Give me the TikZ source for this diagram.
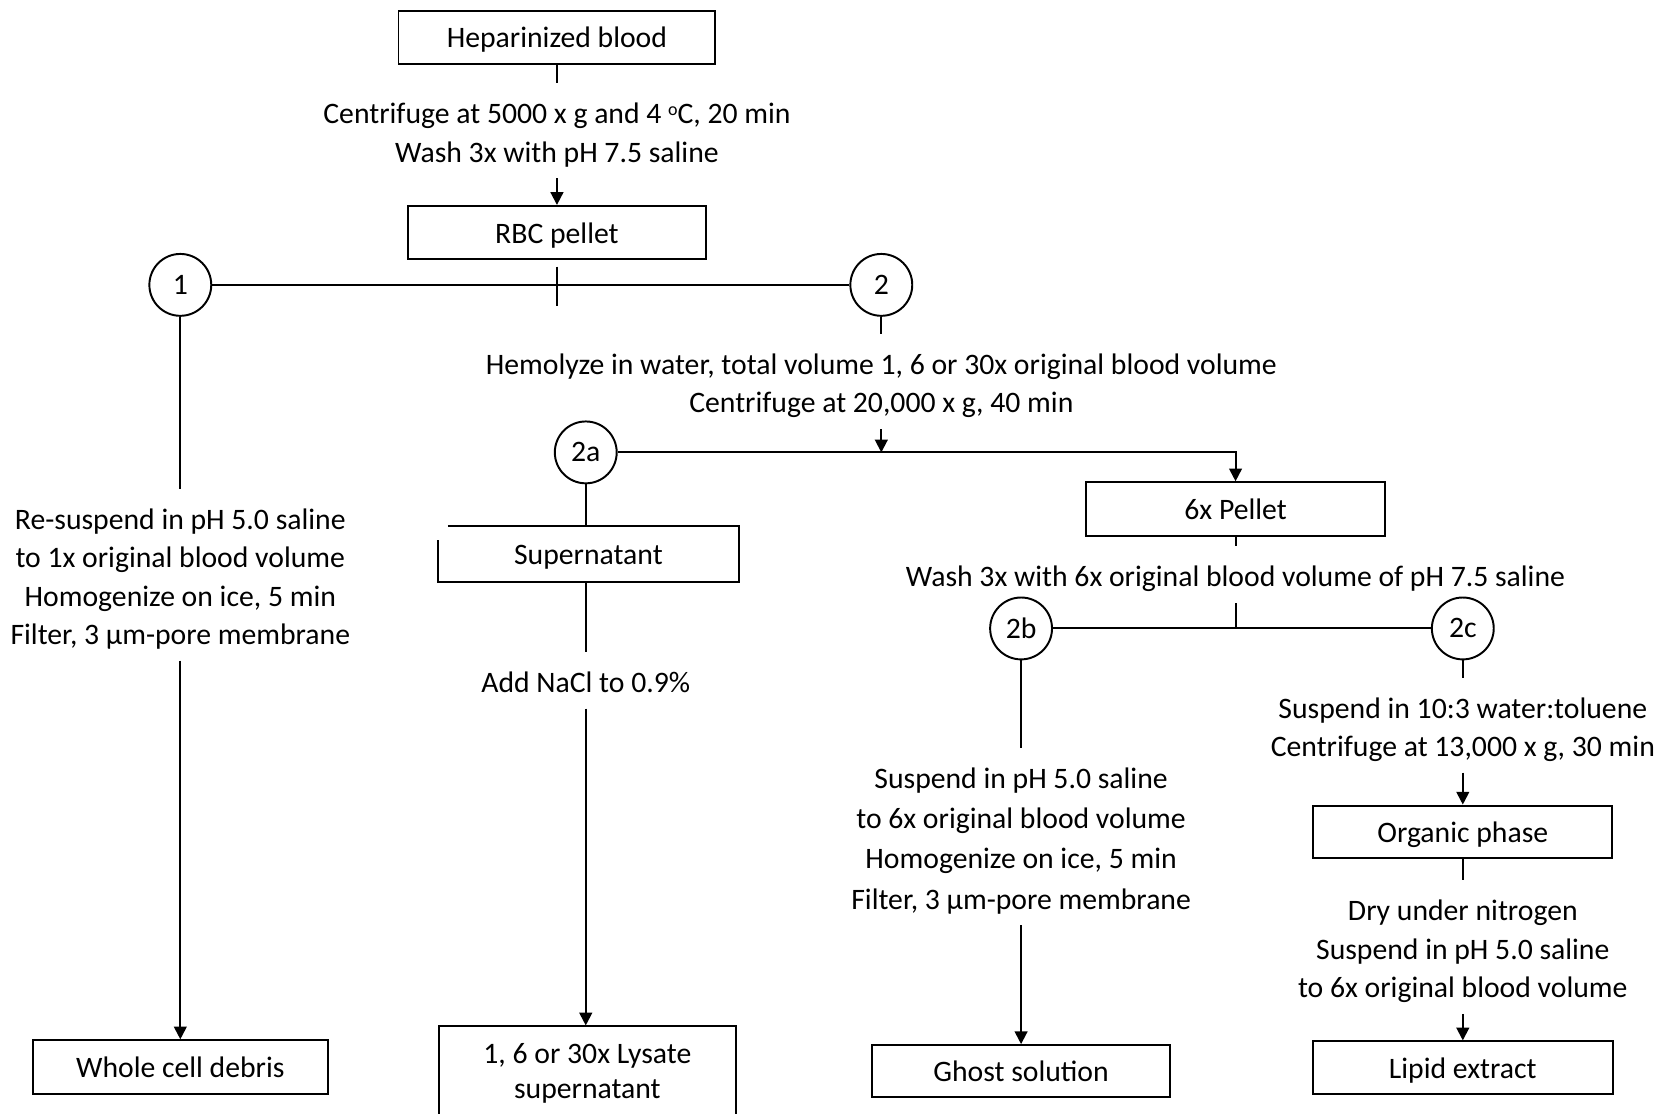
\documentclass[tikz,border=0pt]{standalone}
\usepackage{fontspec}
\setmainfont{Carlito}
\usetikzlibrary{arrows.meta}
\newcommand\pu{0.025cm}
\newcommand\fsz{\fontsize{19.8}{25.6}\selectfont}
\newcommand\ts{\rule{0pt}{20.8pt}}
\newcommand\bs{\rule[-4.6pt]{0pt}{4.6pt}}
\newcommand\degsym{\raisebox{0.28em}{\fontsize{12}{12}\selectfont o}}
\begin{document}
\begin{tikzpicture}[x=0.025cm,y=-0.025cm,
  ln/.style={line width=1.3pt},
  box/.style={draw, line width=1.3pt, inner sep=0pt, minimum height=50*\pu, font=\fsz, align=center,
    text height=15pt, text depth=1pt},
  boxnb/.style={inner sep=0pt, font=\fsz, align=center, text height=15pt, text depth=1pt},
  rnd/.style={draw, circle, line width=1.3pt, minimum size=58*\pu, inner sep=0pt, font=\fsz},
  txt/.style={align=center, font=\fsz, inner xsep=0pt, inner ysep=6pt, anchor=north},
  arr/.style={ln, -{Triangle[length=8.5pt,width=8.5pt]}}
]
\useasboundingbox (0,0) rectangle (1568,1044);

% boxes
\node[box, minimum width=297*\pu] (hep) at (522,35) {Heparinized blood};
\node[box, minimum width=279*\pu] (rbc) at (522,218) {RBC pellet};
\node[box, minimum width=281*\pu] (pel6) at (1158,477) {6x Pellet};
\node[boxnb, minimum width=281*\pu, minimum height=52*\pu] (sup) at (551.5,519) {Supernatant};
\node[box, minimum width=280*\pu, minimum height=49*\pu] (org) at (1371,779.5) {Organic phase};
\node[box, minimum width=277*\pu] (whole) at (169,1000) {Whole cell debris};
\node[draw, line width=1.3pt, inner sep=0pt, align=center, minimum width=279*\pu, minimum height=88*\pu,
  font=\fontsize{19.8}{22.8}\selectfont] (lys) at (550.5,1006) {1, 6 or 30x Lysate\\supernatant};
\node[box, minimum width=280*\pu, minimum height=49*\pu] (ghost) at (957,1004) {Ghost solution};
\node[box, minimum width=281*\pu, minimum height=49*\pu] (lipid) at (1371,1000.5) {Lipid extract};

% circles
\node[rnd] (c1) at (169,267) {1};
\node[rnd] (c2) at (826,267) {2};
\node[rnd] (c2a) at (549,424) {2a};
\node[rnd] (c2b) at (957,589) {2b};
\node[rnd] (c2c) at (1371,589) {2c};

% step texts (placed by their top edge)
\node[txt] (ctA) at (522,78) {\ts Centrifuge at 5000 x g and 4 \degsym C, 20 min\\Wash 3x with pH 7.5 saline\bs};
\node[txt] (hem) at (826,313) {\ts Hemolyze in water, total volume 1, 6 or 30x original blood volume\\Centrifuge at 20,000 x g, 40 min\bs};
\node[txt] (wash6) at (1158,512) {\ts Wash 3x with 6x original blood volume of pH 7.5 saline\bs};
\node[txt] (s103) at (1371,635) {\ts Suspend in 10:3 water:toluene\\Centrifuge at 13,000 x g, 30 min\bs};
\node[txt] (dry) at (1371,825) {\ts Dry under nitrogen\\Suspend in pH 5.0 saline\\to 6x original blood volume\bs};
\node[txt] (s1) at (169,458) {\ts Re-suspend in pH 5.0 saline\\to 1x original blood volume\\Homogenize on ice, 5 min\\Filter, 3 µm-pore membrane\bs};
\node[txt, font=\fontsize{19.8}{26.8}\selectfont] (s2b) at (957,701) {\ts Suspend in pH 5.0 saline\\to 6x original blood volume\\Homogenize on ice, 5 min\\Filter, 3 µm-pore membrane\bs};
\node[txt] (nacl) at (549,611) {\ts Add NaCl to 0.9\%\bs};

% free ends
\coordinate (rbcT) at (522,250);
\coordinate (rbcB) at (522,287);

% supernatant border (as drawn in the original)
\draw[ln] ([xshift=9*\pu]sup.north west) -- (sup.north east) -- (sup.south east) -- (sup.south west) -- ([yshift=-13*\pu]sup.north west);

% connectors
\draw[ln] (hep.south) -- (ctA.north);
\draw[arr] (ctA.south) -- (rbc.north);
\draw[ln] (rbcT) -- (rbcB);
\draw[ln] (c1.east) -- (c2.west);
\draw[ln] (c2.south) -- (hem.north);
\draw[arr] (hem.south) -- (hem.south |- c2a.east);
\draw[arr] (c2a.east) -| (pel6.north);
\draw[ln] (c2a.south) -- (c2a.south |- sup.north);
\draw[ln] (sup.south -| c2a) -- (nacl.north);
\draw[arr] (nacl.south) -- (nacl.south |- lys.north);
\draw[ln] (pel6.south) -- (wash6.north);
\draw[ln] (wash6.south) -- (wash6.south |- c2b.east);
\draw[ln] (c2b.east) -- (c2c.west);
\draw[ln] (c2c.south) -- (s103.north);
\draw[arr] (s103.south) -- (org.north);
\draw[ln] (org.south) -- (dry.north);
\draw[arr] (dry.south) -- (lipid.north);
\draw[ln] (c2b.south) -- (s2b.north);
\draw[arr] (s2b.south) -- (ghost.north);
\draw[ln] (c1.south) -- (s1.north);
\draw[arr] (s1.south) -- (whole.north);
\end{tikzpicture}
\end{document}
